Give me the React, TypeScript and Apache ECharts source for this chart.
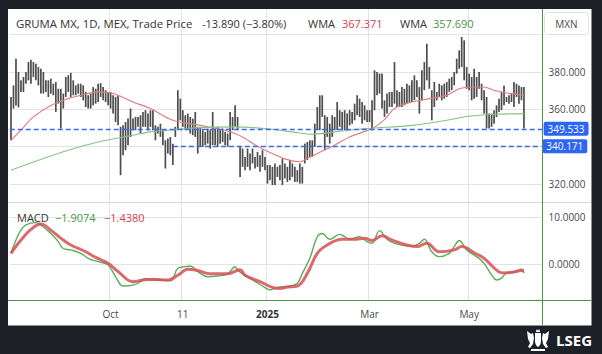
import React, { useEffect, useRef } from 'react';
import * as echarts from 'echarts';

// ---------- categories (trading days, BMV calendar) ----------
const HOLIDAYS = ['2024-09-16', '2024-11-18', '2024-12-12', '2024-12-25', '2025-01-01', '2025-02-03', '2025-03-17', '2025-04-17', '2025-04-18', '2025-05-01'];
const FIRST_DAY = '2024-08-05';
const SLOT_COUNT = 214; // 207 bars + empty right margin

const tickDates = ['2024-10-01', '2024-11-11', '2025-01-02', '2025-03-03', '2025-05-02'];
const tickLabels = ['Oct', '11', '2025', 'Mar', 'May'];

// ---------- price bars (high / low) ----------
const highs = [
  366.6, 372.8, 387.0, 380.0, 375.5, 377.3, 380.0, 385.3, 386.5, 385.3,
  384.4, 382.6, 381.7, 380.0, 375.5, 375.5, 376.4, 373.7, 374.6, 371.0,
  371.0, 368.4, 377.3, 378.2, 379.5, 375.5, 372.8, 373.7, 373.7, 372.8,
  369.3, 367.5, 368.4, 371.9, 371.0, 373.7, 374.0, 371.9, 370.2, 369.3,
  369.3, 367.5, 366.6, 367.5, 350.6, 351.4, 353.2, 355.0, 360.4, 355.0,
  355.9, 355.9, 356.8, 358.6, 359.5, 357.7, 359.5, 359.5, 351.4, 350.6,
  352.3,
  348.8, 343.4, 344.3, 345.2, 341.6, 350.6, 370.2, 365.7, 359.5, 356.8,
  357.7, 355.9, 355.0, 358.6, 350.6, 350.6, 348.8, 347.9, 349.7, 348.8,
  358.6, 349.7, 350.6, 348.8, 349.7, 347.9, 347.0, 358.6, 355.9, 362.1,
  355.9, 339.9, 339.0, 334.5, 339.0, 336.3, 339.0, 334.5, 337.2, 335.4,
  338.1, 334.5, 330.1, 330.1, 329.2, 331.0, 329.2, 330.1, 333.7, 331.0,
  329.2, 332.8, 331.0, 329.2, 327.4, 331.0, 329.2, 341.6, 342.5, 343.4,
  343.4, 352.3, 361.2, 367.5, 367.5, 356.8, 355.9, 352.3,
  356.8, 355.9, 363.9, 359.5, 358.6, 359.5, 357.7, 359.5, 358.6, 363.0,
  367.5, 365.7, 363.9, 362.1, 359.5, 359.5, 364.8, 380.9, 380.0, 379.1,
  379.1, 364.8, 368.4, 369.3, 369.3, 385.3, 370.2, 369.3, 371.9, 371.0,
  373.7, 372.8, 375.5, 378.2, 375.5, 371.9, 380.9, 385.3, 395.1, 382.6,
  370.2, 374.6, 369.3, 373.7, 372.8, 373.7, 374.6, 376.4, 377.3, 380.0,
  387.1, 391.6, 398.7, 396.9, 382.6, 379.1, 377.3, 381.7, 377.3, 380.0,
  373.7, 370.2, 366.6, 357.7, 357.7, 359.5, 362.1, 365.7, 369.3, 372.8,
  366.6, 367.5, 368.4, 374.6, 373.7, 372.8, 371.9, 371.9,
];
const lows = [
  343.4, 360.4, 362.0, 361.0, 369.3, 369.3, 373.7, 375.5, 373.7, 377.3,
  375.5, 372.8, 368.4, 368.4, 369.3, 366.6, 368.4, 367.5, 358.6, 363.0,
  349.7, 360.4, 366.6, 369.3, 366.6, 367.5, 367.5, 368.4, 366.6, 364.8,
  361.2, 360.4, 360.4, 362.1, 363.0, 363.9, 366.6, 364.8, 363.9, 362.1,
  360.4, 357.7, 353.2, 351.4, 324.7, 335.4, 338.1, 340.8, 345.2, 348.8,
  348.8, 350.6, 347.0, 350.6, 350.6, 348.8, 350.6, 348.8, 343.4, 347.0,
  345.2,
  340.8, 328.3, 336.3, 335.4, 330.1, 345.2, 348.8, 354.1, 350.6, 348.8,
  349.7, 347.0, 346.1, 345.2, 336.3, 339.9, 339.9, 340.8, 341.6, 339.0,
  340.8, 340.8, 339.9, 341.6, 342.5, 340.8, 339.9, 343.4, 348.8, 350.6,
  348.8, 323.8, 329.2, 327.4, 329.2, 327.4, 331.0, 328.3, 329.2, 326.5,
  329.2, 327.4, 320.2, 322.0, 319.4, 319.4, 323.8, 322.0, 319.4, 323.0,
  321.1, 322.0, 323.8, 321.1, 321.1, 320.2, 320.2, 331.0, 332.8, 334.5,
  334.5, 339.9, 348.8, 348.8, 355.9, 338.1, 345.2, 341.6,
  345.2, 348.8, 348.8, 350.6, 348.8, 348.8, 348.8, 351.4, 352.3, 354.1,
  356.8, 355.9, 352.3, 354.1, 353.2, 353.2, 348.8, 359.5, 367.5, 368.4,
  360.4, 355.9, 357.7, 361.2, 361.2, 363.0, 361.2, 361.2, 361.2, 362.1,
  363.0, 363.9, 363.9, 364.8, 366.6, 357.7, 364.8, 370.2, 375.5, 371.0,
  354.1, 361.2, 364.8, 366.6, 364.8, 365.7, 366.6, 369.3, 370.2, 372.8,
  379.1, 381.7, 382.6, 375.5, 371.0, 370.2, 364.8, 365.7, 366.6, 371.0,
  364.8, 357.7, 349.7, 349.7, 350.6, 352.3, 355.9, 358.6, 359.5, 362.1,
  363.9, 363.0, 363.9, 361.2, 366.6, 363.0, 364.8, 349.7,
];

// ---------- WMA lines (bar index -> value) ----------
const wmaRedAt = [0, 4, 9, 16, 23, 28, 35, 41, 49, 56, 65, 76, 90, 102, 116, 119, 123, 130, 136, 145, 150, 154, 161, 168, 175, 180, 186, 190, 194, 198, 206];
const wmaRedVal = [343.4, 348.8, 355.9, 362.0, 365.7, 367.5, 369.3, 368.4, 363.9, 360.4, 354.1, 351.4, 347.0, 338.1, 331.9, 333.6, 336.3, 340.8, 345.2, 349.7, 354.5, 360.4, 363.9, 365.7, 367.5, 371.0, 371.9, 371.9, 370.2, 369.0, 367.371];
const wmaGreenAt = [0, 9, 23, 35, 49, 56, 63, 76, 90, 102, 116, 120, 130, 143, 161, 175, 184, 195, 206];
const wmaGreenVal = [327.4, 331.8, 338.1, 342.5, 346.1, 347.9, 348.8, 350.2, 350.6, 349.7, 347.3, 346.6, 347.9, 349.7, 351.4, 354.1, 356.3, 357.3, 357.69];

// ---------- MACD ----------
const macdAt = [0, 2, 4, 6, 10, 12, 16, 19, 21, 24, 28, 31, 35, 39, 42, 45, 49, 52, 54, 56, 60, 64, 65, 67, 70, 72, 75, 79, 83, 87, 90, 91, 93, 97, 101, 104, 107, 112, 115, 117, 120, 123, 125, 128, 132, 134, 136, 140, 143, 145, 148, 151, 154, 161, 164, 166, 169, 172, 176, 178, 180, 183, 188, 190, 193, 195, 197, 199, 202, 205, 206];
const macdVal = [2.27, 5.1, 7.2, 8.3, 8.8, 8.3, 6.5, 4.76, 3.3, 3.0, 2.27, 1.2, 0.5, -0.2, -2.7, -4.68, -4.5, -3.76, -3.05, -3.4, -3.4, -3.55, -3.26, -0.9, -0.57, -0.42, -1.63, -2.7, -2.55, -2.1, -0.57, -1.3, -2.1, -3.4, -4.68, -5.5, -5.0, -4.68, -4.1, -2.0, 1.2, 5.8, 6.5, 5.25, 6.3, 5.8, 5.25, 5.8, 4.76, 4.4, 7.1, 5.25, 4.4, 3.8, 4.4, 5.25, 2.6, 1.56, 2.27, 3.7, 5.0, 3.0, 1.2, 0.14, -2.3, -3.4, -3.0, -1.9, -1.7, -1.1, -1.9074];
const signalAt = [0, 4, 8, 12, 16, 20, 24, 30, 34, 39, 43, 49, 53, 57, 63, 67, 71, 75, 80, 87, 92, 94, 100, 105, 108, 111, 115, 119, 123, 127, 133, 138, 142, 145, 149, 153, 159, 163, 167, 172, 178, 181, 186, 190, 196, 198, 202, 205, 206];
const signalVal = [2.27, 5.1, 7.35, 8.5, 7.2, 5.5, 4.05, 2.6, 1.4, 0.14, -1.6, -3.76, -3.4, -3.26, -3.4, -2.4, -1.1, -1.4, -2.1, -2.1, -1.2, -2.4, -3.76, -4.96, -5.2, -4.9, -4.68, -2.0, 2.27, 4.05, 5.25, 5.25, 5.5, 5.0, 6.0, 5.1, 4.05, 3.7, 4.4, 2.6, 3.0, 3.7, 2.4, 1.2, -1.7, -1.9, -1.7, -1.4, -1.438];

// ---------- levels & axis ticks ----------
const levelValues = [349.533, 340.171];
const levelStartIndex = 65; // lower level begins at this bar
const priceGridValues = [320, 340, 360, 380, 400];
const priceLabelValues = [320, 360, 380];
const macdTickValues = [0, 10];

const CREST = 'M3 2 L7 5 L9 4 L10 9 L9 15 L6 19 L4 18 L6 14 L4 10 Z M25 2 L21 5 L19 4 L18 9 L19 15 L22 19 L24 18 L22 14 L24 10 Z M11 4 H17 V12 Q17 16 14 18 Q11 16 11 12 Z M12 0 L13 2 L14 0 L15 2 L16 0 V3 H12 Z M7 20 H21 V22 H7 Z';
echarts.graphic.registerShape('lsegCrest', echarts.graphic.extendPath(CREST, {}) as any);

function tradingDays(start: string, n: number): string[] {
  const out: string[] = [];
  const d = new Date(start + 'T00:00:00Z');
  while (out.length < n) {
    const wd = d.getUTCDay();
    const s = d.toISOString().slice(0, 10);
    if (wd !== 0 && wd !== 6 && HOLIDAYS.indexOf(s) < 0) out.push(s);
    d.setUTCDate(d.getUTCDate() + 1);
  }
  return out;
}

const FONT = 'Open Sans';
const GRID_LEFT = 9.755;
const GRID_W = 532.86;

function buildOption() {
  const dates = tradingDays(FIRST_DAY, SLOT_COUNT);
  const isTick = (_i: number, v: string) => tickDates.indexOf(v) >= 0;
  const pairs = (at: number[], vals: number[]) => at.map((i, k) => [i, vals[k]]);
  const lastSlot = dates.length - 1;

  const txt = (text: string, x: number, y: number, fill: string, extra: any = {}) => ({
    type: 'text', x, y, silent: true, z: 50,
    style: { text, fill, font: `11px "${FONT}"`, verticalAlign: 'middle', ...extra },
  });

  return {
    animation: false,
    backgroundColor: '#ffffff',
    textStyle: { fontFamily: FONT },
    grid: [
      { left: GRID_LEFT, width: GRID_W, top: 9, height: 193 },
      { left: GRID_LEFT, width: GRID_W, top: 202, height: 98 },
    ],
    xAxis: [
      {
        type: 'category', gridIndex: 0, data: dates, boundaryGap: true,
        axisLine: { show: false }, axisTick: { show: false }, axisLabel: { show: false },
        splitLine: { show: true, interval: isTick, lineStyle: { color: '#e3e3e3', width: 1 } },
      },
      {
        type: 'category', gridIndex: 1, data: dates, boundaryGap: true,
        axisLine: { show: false }, axisTick: { show: false },
        axisLabel: {
          show: true, interval: isTick, margin: 9, color: '#4a4a4a', fontSize: 10, fontFamily: FONT,
          formatter: (v: string) => {
            const k = tickDates.indexOf(v);
            if (k < 0) return '';
            return tickLabels[k] === '2025' ? '{b|2025}' : tickLabels[k];
          },
          rich: { b: { fontWeight: 'bold', fontSize: 10, color: '#333', fontFamily: FONT } },
        },
        splitLine: { show: true, interval: isTick, lineStyle: { color: '#e3e3e3', width: 1 } },
      },
    ],
    yAxis: [
      {
        type: 'value', gridIndex: 0, position: 'right', min: 310.35, max: 413.7,
        axisLine: { show: false },
        axisTick: { show: false, customValues: priceGridValues },
        axisLabel: { customValues: priceLabelValues, margin: 6, color: '#4a4a4a', fontSize: 10, fontFamily: FONT, formatter: (v: number) => v.toFixed(3) },
        splitLine: { show: true, lineStyle: { color: '#e3e3e3', width: 1 } },
      },
      {
        type: 'value', gridIndex: 1, position: 'right', min: -7.66, max: 13.19,
        axisLine: { show: false },
        axisTick: { show: false, customValues: macdTickValues },
        axisLabel: { customValues: macdTickValues, margin: 6, color: '#4a4a4a', fontSize: 10, fontFamily: FONT, formatter: (v: number) => v.toFixed(4) },
        splitLine: { show: true, lineStyle: { color: '#e3e3e3', width: 1 } },
      },
    ],
    series: [
      {
        type: 'custom', name: 'Price', xAxisIndex: 0, yAxisIndex: 0, z: 3,
        data: highs.map((h, i) => [i, h, lows[i]]),
        encode: { x: 0, y: [1, 2] },
        renderItem: (_p: any, api: any) => {
          const i = api.value(0);
          const top = api.coord([i, api.value(1)]);
          const bot = api.coord([i, api.value(2)]);
          return {
            type: 'line',
            shape: { x1: top[0], y1: top[1], x2: bot[0], y2: bot[1] },
            style: { stroke: '#4d4d4d', lineWidth: 1.7 },
          };
        },
      },
      {
        type: 'line', name: 'WMA fast', xAxisIndex: 0, yAxisIndex: 0, z: 4,
        data: pairs(wmaRedAt, wmaRedVal), smooth: 0.35, showSymbol: false,
        lineStyle: { color: '#e07a7e', width: 1.1 },
      },
      {
        type: 'line', name: 'WMA slow', xAxisIndex: 0, yAxisIndex: 0, z: 4,
        data: pairs(wmaGreenAt, wmaGreenVal), smooth: 0.35, showSymbol: false,
        lineStyle: { color: '#86c486', width: 1.1 },
        markLine: {
          silent: true, symbol: ['none', 'none'], animation: false,
          lineStyle: { type: [5, 3], color: '#3a6ae8', width: 1.3 },
          label: {
            show: true, position: 'end', distance: 1, color: '#ffffff', fontSize: 10, fontFamily: FONT,
            backgroundColor: '#2d66f5', padding: [2, 4, 2, 4], borderRadius: 2,
            formatter: (p: any) => levelValues[p.dataIndex].toFixed(3),
          },
          data: [
            { yAxis: levelValues[0] },
            [{ coord: [levelStartIndex, levelValues[1]] }, { coord: [lastSlot, levelValues[1]] }],
          ],
        },
      },
      {
        type: 'line', name: 'MACD', xAxisIndex: 1, yAxisIndex: 1, z: 4,
        data: pairs(macdAt, macdVal), smooth: 0.4, showSymbol: false,
        lineStyle: { color: '#5aad5a', width: 1.4 },
      },
      {
        type: 'line', name: 'Signal', xAxisIndex: 1, yAxisIndex: 1, z: 5,
        data: pairs(signalAt, signalVal), smooth: 0.4, showSymbol: false,
        lineStyle: { color: 'rgba(214,80,84,0.85)', width: 3 },
      },
    ],
    graphic: [
      // pane separators and axis lines
      { type: 'line', silent: true, z: 40, shape: { x1: 8, y1: 202.5, x2: 591, y2: 202.5 }, style: { stroke: '#d6d6d6', lineWidth: 1 } },
      { type: 'line', silent: true, z: 40, shape: { x1: 8, y1: 300.5, x2: 591, y2: 300.5 }, style: { stroke: '#4f924f', lineWidth: 1 } },
      { type: 'line', silent: true, z: 40, shape: { x1: 542.5, y1: 9, x2: 542.5, y2: 325 }, style: { stroke: '#4f924f', lineWidth: 1 } },
      // MXN box
      { type: 'rect', silent: true, z: 45, shape: { x: 544.5, y: 12.5, width: 44, height: 22, r: 3 }, style: { fill: '#ffffff', stroke: '#e2e2e2', lineWidth: 1 } },
      txt('MXN', 566.5, 23.5, '#4a4a4a', { align: 'center', font: `10px "${FONT}"` }),
      // header
      txt('GRUMA MX, 1D, MEX, Trade Price', 16, 23, '#333333', { font: `11.4px "${FONT}"` }),
      txt('-13.890 (\u22123.80%)', 202, 23, '#333333'),
      txt('WMA', 308, 23, '#333333'),
      txt('367.371', 342, 23, '#d0434b'),
      txt('WMA', 400, 23, '#333333'),
      txt('357.690', 433, 23, '#3f9a4a'),
      // MACD legend
      txt('MACD', 17, 217, '#333333'),
      txt('\u22121.9074', 55, 217, '#3f9a4a'),
      txt('\u22121.4380', 104, 217, '#d0434b'),
      // dark frame
      { type: 'rect', silent: true, z: 100, shape: { x: 0, y: 0, width: 602, height: 9 }, style: { fill: '#1d2027' } },
      { type: 'rect', silent: true, z: 100, shape: { x: 0, y: 0, width: 8, height: 354 }, style: { fill: '#1d2027' } },
      { type: 'rect', silent: true, z: 100, shape: { x: 591.5, y: 0, width: 10.5, height: 354 }, style: { fill: '#1d2027' } },
      { type: 'rect', silent: true, z: 100, shape: { x: 0, y: 325.5, width: 602, height: 28.5 }, style: { fill: '#1d2027' } },
      // LSEG logo
      { type: 'lsegCrest', silent: true, z: 110, x: 524, y: 329, scaleX: 1, scaleY: 1, style: { fill: '#ffffff' } },
      { type: 'text', silent: true, z: 110, x: 556, y: 340, style: { text: 'LSEG', fill: '#ffffff', font: `bold 15px "${FONT}"`, verticalAlign: 'middle' } },
    ],
  };
}

export default function App() {
  const ref = useRef<HTMLDivElement>(null);
  useEffect(() => {
    if (!ref.current) return;
    const chart = echarts.init(ref.current, undefined, { renderer: 'svg' });
    chart.setOption(buildOption() as any);
    return () => chart.dispose();
  }, []);
  return <div ref={ref} style={{ position: 'fixed', left: 0, top: 0, width: 602, height: 354 }} />;
}
